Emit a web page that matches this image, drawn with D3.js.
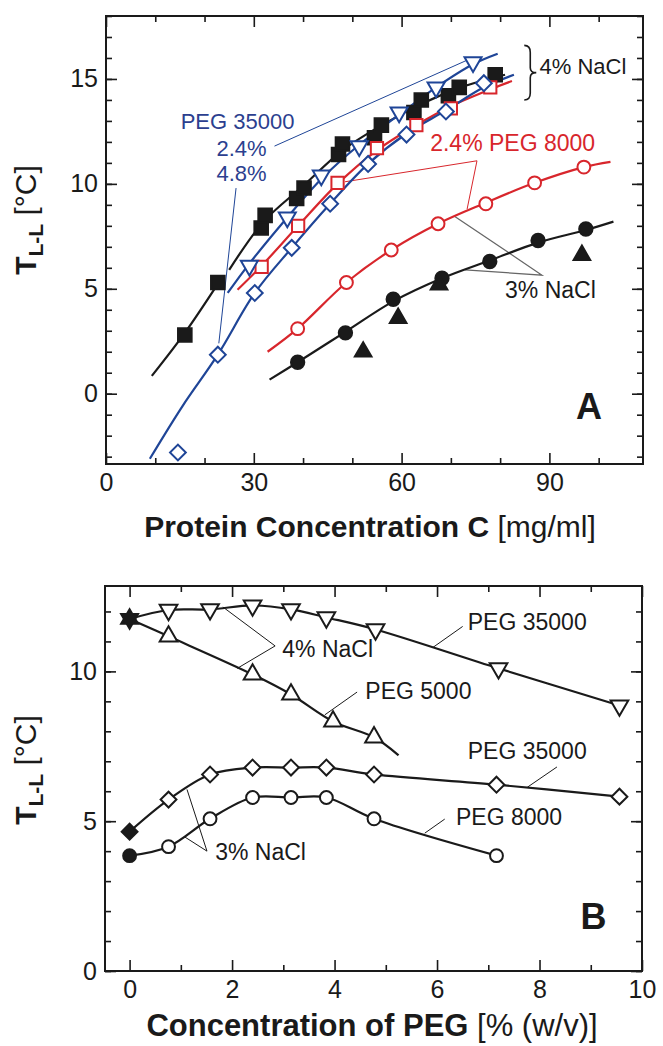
<!DOCTYPE html>
<html>
<head>
<meta charset="utf-8">
<script src="https://cdnjs.cloudflare.com/ajax/libs/d3/7.8.5/d3.min.js"></script>
<style>
  body { margin: 0; background: #fff; }
  text { font-family: "Liberation Sans", Arial, Helvetica, sans-serif; fill: #1a1a1a; }
</style>
</head>
<body>
<div id="chart"></div>
<script>
var width = 663, height = 1046;
var black = "#1a1a1a", blue = "#1f4597", red = "#d8262c", blueText = "#2c3f8f", grey = "#666";

// ---- panel A : T(L-L) vs protein concentration ----
// 4% NaCl, no PEG (filled squares)
var aSquares = [[16,2.8],[22.7,5.3],[31.5,7.9],[32.3,8.5],[38.7,9.3],[40.2,9.8],[47.2,11.4],[48,11.9],
                [54.5,12.2],[55.9,12.8],[62.5,13.4],[64,14.0],[69.5,14.2],[71.7,14.6],[79,15.2]];
var aSquaresFit1 = [[9.3,0.85],[16,2.9],[22.6,5.2]];
var aSquaresFit2 = [[25,5.9],[32,8.2],[40,9.9],[48,11.6],[56,12.8],[64,13.8],[72,14.6],[81,15.2]];
// 4% NaCl + 2.4% PEG 35000 (open down triangles)
var aTriDown = [[29.1,6.1],[36.8,8.4],[43.7,10.4],[51.4,11.8],[59.5,13.4],[67,14.6],[74.5,15.8]];
var aTriDownFit = [[24.7,4.8],[29.1,6.2],[36.8,8.4],[44,10.3],[51.6,11.9],[59.5,13.3],[67,14.6],[74.5,15.7],[79.5,16.2]];
// 4% NaCl + 2.4% PEG 8000 (open squares)
var aOpenSq = [[31.6,6.05],[39,8.0],[47,10.05],[55,11.7],[63,12.8],[70,13.6],[78,14.6]];
var aOpenSqFit = [[26.7,4.95],[31.6,6.1],[39,8.0],[47,10.0],[55,11.6],[63,12.8],[70,13.7],[78,14.5],[82.4,14.9]];
// 4% NaCl + 4.8% PEG 35000 (open diamonds)
var aDiamonds = [[14.6,-2.8],[22.7,1.86],[30.2,4.8],[37.7,6.95],[45.5,9.05],[53.2,10.95],[61,12.35],[69,13.45],[76.7,14.8]];
var aDiamondsFit = [[8.9,-3.1],[15.5,-0.6],[22.7,1.86],[30.2,4.8],[37.7,6.95],[45.5,9.05],[53.2,10.95],[61,12.4],[69,13.5],[76.7,14.6],[82.8,15.2]];
// 3% NaCl + 2.4% PEG 8000 (open circles)
var aCircles = [[38.9,3.1],[48.8,5.3],[57.9,6.85],[67.4,8.1],[77.1,9.05],[87,10.05],[97,10.8]];
var aCirclesFit = [[32.8,2.0],[38.9,3.1],[48.8,5.3],[57.9,6.85],[67.4,8.1],[77.1,9.1],[87,10.05],[97,10.8],[102.4,11.05]];
// 3% NaCl, no PEG (filled circles)
var aDots = [[38.9,1.5],[48.6,2.9],[58.3,4.5],[68.2,5.5],[77.9,6.3],[87.7,7.3],[97.4,7.85]];
var aDotsFit = [[33.2,0.67],[38.9,1.5],[48.6,2.95],[58.3,4.4],[68.2,5.5],[77.9,6.35],[87.7,7.2],[97.4,7.8],[103,8.2]];
// 3% NaCl, filled triangles (no fit)
var aTriUp = [[52.2,2.0],[59.3,3.6],[67.6,5.2],[96.6,6.6]];

var aXMajor = [0, 30, 60, 90], aXMinor = [10, 20, 40, 50, 70, 80, 100];
var aYMajor = [0, 5, 10, 15], aYMinor = d3.range(-3, 19);

// ---- panel B : T(L-L) vs PEG concentration ----
var bTriDown = [[0.76,12.05],[1.57,12.07],[2.4,12.2],[3.15,12.07],[3.84,11.8],[4.8,11.4],[7.2,10.1],[9.56,8.86]];
var bTriUp = [[0.76,11.17],[2.4,9.9],[3.15,9.23],[3.97,8.33],[4.77,7.8]];
var bTriUpEnd = [[5.25,7.2]];
var bDiamonds = [[0.76,5.72],[1.57,6.56],[2.4,6.79],[3.15,6.79],[3.84,6.79],[4.77,6.56],[7.16,6.22],[9.56,5.82]];
var bCircles = [[0.76,4.15],[1.57,5.08],[2.4,5.79],[3.15,5.79],[3.84,5.79],[4.77,5.08],[7.16,3.85]];
// no-PEG starting points (filled)
var bStart4 = [[0,11.75]], bStartDiamond = [[0,4.65]], bStartCircle = [[0,3.85]];

var bXMajor = [0, 2, 4, 6, 8, 10], bXMinor = [1, 3, 5, 7, 9];
var bYMajor = [0, 5, 10], bYMinor = d3.range(0, 13);

var svg = d3.select("#chart").append("svg")
    .attr("width", width)
    .attr("height", height);

var xA = d3.scaleLinear().domain([0, 109]).range([106, 643]);
var yA = d3.scaleLinear().domain([-3.35, 18]).range([464, 16]);
var xB = d3.scaleLinear().domain([-0.48, 10]).range([105, 642]);
var yB = d3.scaleLinear().domain([0, 12.85]).range([971, 586]);

function addAxes(g, x, y, xMajor, xMinor, yMajor, yMinor) {
  var x0 = x.range()[0], x1 = x.range()[1], y0 = y.range()[0], y1 = y.range()[1];
  var axes = [
    [d3.axisBottom(x).tickValues(xMinor).tickSize(-6).tickFormat(""), 0, y0],
    [d3.axisBottom(x).tickValues(xMajor).tickSize(-11).tickPadding(9).tickFormat(d3.format("d")), 0, y0],
    [d3.axisTop(x).tickValues(xMinor).tickSize(-6).tickFormat(""), 0, y1],
    [d3.axisTop(x).tickValues(xMajor).tickSize(-11).tickFormat(""), 0, y1],
    [d3.axisLeft(y).tickValues(yMinor).tickSize(-6).tickFormat(""), x0, 0],
    [d3.axisLeft(y).tickValues(yMajor).tickSize(-11).tickPadding(8).tickFormat(d3.format("d")), x0, 0],
    [d3.axisRight(y).tickValues(yMinor).tickSize(-6).tickFormat(""), x1, 0],
    [d3.axisRight(y).tickValues(yMajor).tickSize(-11).tickFormat(""), x1, 0]
  ];
  axes.forEach(function(a) {
    var ag = g.append("g").attr("transform", "translate(" + a[1] + "," + a[2] + ")").call(a[0]);
    ag.select(".domain").remove();
    ag.selectAll("line").attr("stroke", black).attr("stroke-width", 1.6);
    ag.selectAll("text").attr("fill", black).style("font-size", "25px")
      .style("font-family", '"Liberation Sans", Arial, sans-serif');
  });
  g.append("rect")
      .attr("x", x0).attr("y", y1)
      .attr("width", x1 - x0).attr("height", y0 - y1)
      .attr("fill", "none")
      .attr("stroke", black)
      .attr("stroke-width", 2);
}

function drawFit(g, data, x, y, color) {
  var line = d3.line()
      .x(function(d) { return x(d[0]); })
      .y(function(d) { return y(d[1]); })
      .curve(d3.curveCatmullRom.alpha(0.5));
  g.append("path")
      .attr("d", line(data))
      .attr("fill", "none")
      .attr("stroke", color)
      .attr("stroke-width", 2.2);
}

function drawPoints(g, data, x, y, type, size, rot, fill, stroke) {
  var sym = d3.symbol().type(type).size(size);
  g.selectAll(null).data(data).enter().append("path")
      .attr("d", sym)
      .attr("transform", function(d) {
        return "translate(" + x(d[0]) + "," + y(d[1]) + ") rotate(" + rot + ")";
      })
      .attr("fill", fill)
      .attr("stroke", stroke)
      .attr("stroke-width", 2);
}

function leader(g, pts, color, w) {
  g.append("path")
      .attr("d", d3.line()(pts))
      .attr("fill", "none")
      .attr("stroke", color)
      .attr("stroke-width", w || 1);
}

function label(g, px, py, txt, color, size, anchor, weight) {
  return g.append("text")
      .attr("x", px).attr("y", py)
      .attr("text-anchor", anchor || "start")
      .style("font-size", size + "px")
      .style("font-weight", weight || "normal")
      .style("fill", color || black)
      .text(txt);
}

function yTitle(g, cx, cy) {
  var t = g.append("text")
      .attr("transform", "translate(" + cx + "," + cy + ") rotate(-90)")
      .attr("text-anchor", "middle")
      .style("font-size", "30px");
  t.append("tspan").style("font-weight", "bold").text("T");
  t.append("tspan").style("font-weight", "bold").style("font-size", "21px").attr("dy", 7).text("L-L");
  t.append("tspan").attr("dy", -7).text(" [°C]");
}

function xTitle(g, cx, cy, boldPart, plainPart, size) {
  var t = g.append("text")
      .attr("x", cx).attr("y", cy)
      .attr("text-anchor", "middle")
      .style("font-size", size + "px");
  t.append("tspan").style("font-weight", "bold").text(boldPart);
  t.append("tspan").text(plainPart);
}

// ---------- panel A ----------
var gA = svg.append("g");
addAxes(gA, xA, yA, aXMajor, aXMinor, aYMajor, aYMinor);

// leader lines under the marks
leader(gA, [[xA(34.2), yA(11.8)], [xA(74.3), yA(16.0)]], blue, 1);
leader(gA, [[xA(26.4), yA(9.8)], [xA(22.9), yA(2.4)]], blue, 1);
leader(gA, [[xA(48.5), yA(10.1)], [xA(75.3), yA(11.1)], [xA(73.3), yA(8.8)]], red, 1);
leader(gA, [[xA(70.8), yA(8.45)], [xA(88.5), yA(5.65)], [xA(72.9), yA(5.9)]], grey, 1.2);

drawFit(gA, aSquaresFit1, xA, yA, black);
drawFit(gA, aSquaresFit2, xA, yA, black);
drawFit(gA, aDotsFit, xA, yA, black);
drawFit(gA, aCirclesFit, xA, yA, red);
drawFit(gA, aOpenSqFit, xA, yA, red);
drawFit(gA, aDiamondsFit, xA, yA, blue);
drawFit(gA, aTriDownFit, xA, yA, blue);

drawPoints(gA, aSquares, xA, yA, d3.symbolSquare, 185, 0, black, black);
drawPoints(gA, aDots, xA, yA, d3.symbolCircle, 140, 0, black, black);
drawPoints(gA, aTriUp, xA, yA, d3.symbolTriangle, 120, 0, black, black);
drawPoints(gA, aCircles, xA, yA, d3.symbolCircle, 130, 0, "#fff", red);
drawPoints(gA, aOpenSq, xA, yA, d3.symbolSquare, 150, 0, "#fff", red);
drawPoints(gA, aDiamonds, xA, yA, d3.symbolSquare, 125, 45, "#fff", blue);
drawPoints(gA, aTriDown, xA, yA, d3.symbolTriangle, 125, 180, "#fff", blue);

label(gA, xA(26.7), yA(12.6), "PEG 35000", blueText, 22, "middle");
label(gA, xA(27.5), yA(11.33), "2.4%", blueText, 22, "middle");
label(gA, xA(27.5), yA(10.13), "4.8%", blueText, 22, "middle");
label(gA, xA(65.8), yA(11.57), "2.4% PEG 8000", red, 23);
label(gA, xA(81), yA(4.56), "3% NaCl", black, 23);
label(gA, xA(88.0), yA(15.24), "4% NaCl", black, 22);
label(gA, xA(95.4), yA(-1.2), "A", black, 36, "start", "bold");

// brace grouping the 4% NaCl curves
var bx = xA(84.9), bt = yA(16.6), bb = yA(14.0), bm = (bt + bb) / 2;
gA.append("path")
    .attr("d", "M" + bx + "," + bt + " Q" + (bx + 6) + "," + bt + " " + (bx + 6) + "," + (bt + 7) +
               " L" + (bx + 6) + "," + (bm - 5) + " Q" + (bx + 6) + "," + bm + " " + (bx + 12) + "," + bm +
               " Q" + (bx + 6) + "," + bm + " " + (bx + 6) + "," + (bm + 5) +
               " L" + (bx + 6) + "," + (bb - 7) + " Q" + (bx + 6) + "," + bb + " " + bx + "," + bb)
    .attr("fill", "none")
    .attr("stroke", black)
    .attr("stroke-width", 1.6);

yTitle(gA, 36, 220);
xTitle(gA, 370, 537, "Protein Concentration C ", "[mg/ml]", 30);

// ---------- panel B ----------
var gB = svg.append("g");
addAxes(gB, xB, yB, bXMajor, bXMinor, bYMajor, bYMinor);

leader(gB, [[xB(1.82), yB(12.15)], [xB(2.84), yB(10.85)], [xB(2.1), yB(10.1)]], black, 1);
leader(gB, [[xB(6.5), yB(11.5)], [xB(5.92), yB(10.8)]], black, 1);
leader(gB, [[xB(4.44), yB(9.31)], [xB(3.81), yB(8.55)]], black, 1);
leader(gB, [[xB(8.34), yB(6.81)], [xB(7.76), yB(6.13)]], black, 1);
leader(gB, [[xB(6.15), yB(5.07)], [xB(5.76), yB(4.6)]], black, 1);
leader(gB, [[xB(1.12), yB(6.06)], [xB(1.51), yB(4.0)], [xB(1.08), yB(4.47)]], black, 1);

drawFit(gB, bStart4.concat(bTriDown), xB, yB, black);
drawFit(gB, bStart4.concat(bTriUp, bTriUpEnd), xB, yB, black);
drawFit(gB, bStartDiamond.concat(bDiamonds), xB, yB, black);
drawFit(gB, bStartCircle.concat(bCircles), xB, yB, black);

drawPoints(gB, bTriDown, xB, yB, d3.symbolTriangle, 135, 180, "#fff", black);
drawPoints(gB, bTriUp, xB, yB, d3.symbolTriangle, 135, 0, "#fff", black);
drawPoints(gB, bDiamonds, xB, yB, d3.symbolSquare, 125, 45, "#fff", black);
drawPoints(gB, bCircles, xB, yB, d3.symbolCircle, 130, 0, "#fff", black);
drawPoints(gB, bStart4, xB, yB, d3.symbolTriangle, 125, 0, black, black);
drawPoints(gB, bStart4, xB, yB, d3.symbolTriangle, 125, 180, black, black);
drawPoints(gB, bStartDiamond, xB, yB, d3.symbolSquare, 125, 45, black, black);
drawPoints(gB, bStartCircle, xB, yB, d3.symbolCircle, 130, 0, black, black);

label(gB, xB(2.98), yB(10.48), "4% NaCl", black, 23);
label(gB, xB(6.6), yB(11.38), "PEG 35000", black, 23);
label(gB, xB(4.6), yB(9.08), "PEG 5000", black, 23);
label(gB, xB(6.6), yB(7.08), "PEG 35000", black, 23);
label(gB, xB(6.37), yB(4.87), "PEG 8000", black, 23);
label(gB, xB(1.67), yB(3.7), "3% NaCl", black, 23);
label(gB, xB(8.8), yB(1.4), "B", black, 36, "start", "bold");

yTitle(gB, 36, 770);
xTitle(gB, 372, 1036, "Concentration of PEG ", "[% (w/v)]", 31);
</script>
</body>
</html>
